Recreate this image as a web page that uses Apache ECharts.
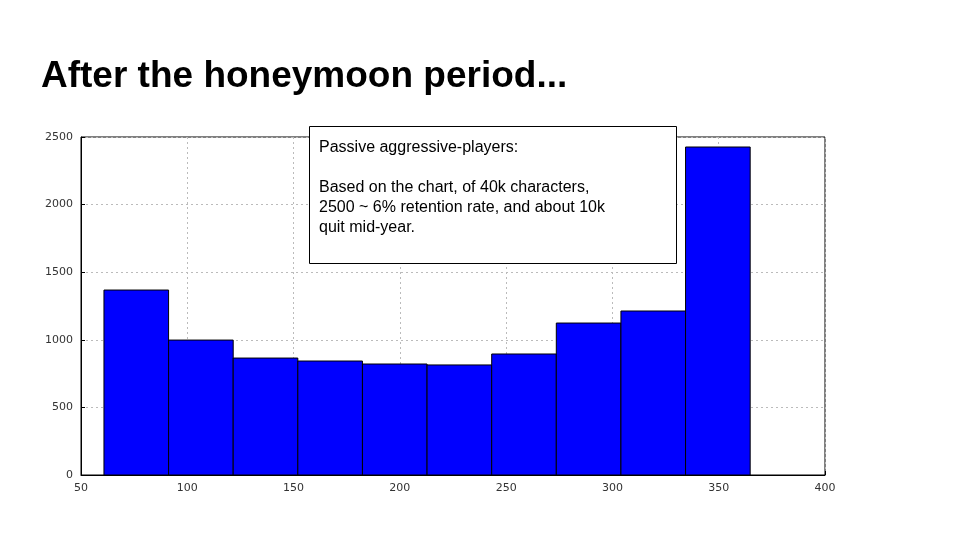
<!DOCTYPE html>
<html>
<head>
    <meta charset="utf-8">
    <title>After the honeymoon period</title>
    <script src="https://cdn.jsdelivr.net/npm/echarts@6/dist/echarts.min.js"></script>
    <style>body{margin:0;background:#fff}</style>
</head>
<body>
    <div id="main" style="width:960px;height:540px;"></div>
    <script type="text/javascript">
        // histogram bin edges and counts
        var binStarts = [60.8, 91.2, 121.6, 152.0, 182.4, 212.8, 243.2, 273.6, 304.0, 334.4];
        var binWidth = 30.4;
        var counts = [1368, 998, 865, 843, 821, 814, 895, 1124, 1213, 2426];
        var xTicks = [50, 100, 150, 200, 250, 300, 350, 400];
        var yTicks = [0, 500, 1000, 1500, 2000, 2500];

        var data = binStarts.map(function (s, i) { return [s, s + binWidth, counts[i]]; });

        var myChart = echarts.init(document.getElementById('main'));
        var option = {
            animation: false,
            grid: { left: 81, right: 135, top: 137, bottom: 65, show: true, borderColor: '#000', borderWidth: 1 },
            xAxis: {
                type: 'value', min: xTicks[0], max: xTicks[xTicks.length - 1], interval: 50,
                axisLine: { lineStyle: { color: '#000' } },
                axisTick: { inside: true, length: 4 },
                axisLabel: { color: '#333', fontSize: 11, fontFamily: 'DejaVu Sans', formatter: function (v) { return String(v); } },
                splitLine: { lineStyle: { color: '#bbb', type: [2, 3] } }
            },
            yAxis: {
                type: 'value', min: yTicks[0], max: yTicks[yTicks.length - 1], interval: 500,
                axisLine: { show: true, lineStyle: { color: '#000' } },
                axisTick: { show: true, inside: true, length: 4 },
                axisLabel: { color: '#333', fontSize: 11, fontFamily: 'DejaVu Sans', formatter: function (v) { return String(v); } },
                splitLine: { lineStyle: { color: '#bbb', type: [2, 3] } }
            },
            series: [{
                type: 'custom',
                data: data,
                renderItem: function (params, api) {
                    var p0 = api.coord([api.value(0), api.value(2)]);
                    var p1 = api.coord([api.value(1), 0]);
                    return {
                        type: 'rect',
                        shape: { x: p0[0], y: p0[1], width: p1[0] - p0[0], height: p1[1] - p0[1] },
                        style: { fill: '#0000ff', stroke: '#000', lineWidth: 1 }
                    };
                }
            }],
            graphic: [
                {
                    type: 'text', left: 41, top: 58,
                    style: { text: 'After the honeymoon period...', font: 'bold 37px "Liberation Sans", Arial', fill: '#000' }
                },
                {
                    type: 'rect', left: 309, top: 126, z: 10,
                    shape: { width: 367, height: 137 },
                    style: { fill: '#fff', stroke: '#000', lineWidth: 1 }
                },
                {
                    type: 'text', left: 319, top: 138, z: 11,
                    style: {
                        text: 'Passive aggressive-players:\n\nBased on the chart, of 40k characters,\n2500 ~ 6% retention rate, and about 10k\nquit mid-year.',
                        font: '16px "Liberation Sans", Arial', lineHeight: 20, fill: '#000'
                    }
                }
            ]
        };
        myChart.setOption(option);
    </script>
</body>
</html>
